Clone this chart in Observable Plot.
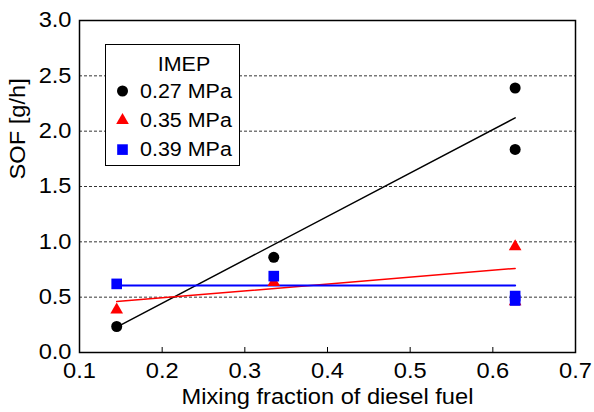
<!DOCTYPE html>
<html><head><meta charset="utf-8">
<script src="https://cdn.jsdelivr.net/npm/d3@7"></script>
<script src="https://cdn.jsdelivr.net/npm/@observablehq/plot@0.6"></script>
<style>
body{margin:0;background:#fff;}
#chart{position:relative;width:594px;height:412px;font-family:"Liberation Sans",Arial,sans-serif;}
#legend{position:absolute;left:105px;top:44px;width:135px;height:122px;border:1.5px solid #000;background:#fff;box-sizing:border-box;}
</style></head><body><div id="chart"></div>
<script>
// Data
const mixFraction = [0.145, 0.335, 0.627, 0.627];
const sof027 = [0.235, 0.86, 2.39, 1.835];
const sof035 = [0.385, 0.635, 0.957, 0.46];
const sof039 = [0.62, 0.69, 0.51, 0.47];
// fitted trend line end points
const fitX = [0.145, 0.627];
const fit027 = [0.23, 2.12];
const fit035 = [0.46, 0.76];
const fit039 = [0.605, 0.605];
const seriesNames = ["0.27 MPa", "0.35 MPa", "0.39 MPa"];
const legendTitle = "IMEP";
const xTicks = [0.1, 0.2, 0.3, 0.4, 0.5, 0.6, 0.7];
const yTicks = [0, 0.5, 1.0, 1.5, 2.0, 2.5, 3.0];
const gridY = [0.5, 1.0, 1.5, 2.0, 2.5];
const xLabel = "Mixing fraction of diesel fuel";
const yLabel = "SOF [g/h]";

const pts = ys => mixFraction.map((x, i) => ({x, y: ys[i]}));
const fit = ys => fitX.map((x, i) => ({x, y: ys[i]}));
const font = '"Liberation Sans", Arial, sans-serif';
const widen = 1.1;

const plot = Plot.plot({
  width: 594, height: 412,
  marginLeft: 79, marginRight: 19, marginTop: 20, marginBottom: 60,
  style: {fontFamily: font, fontSize: "21.5px", color: "#000", background: "#fff"},
  x: {domain: [0.1, 0.7]},
  y: {domain: [0, 3]},
  marks: [
    Plot.ruleY(gridY, {stroke: "#000", strokeWidth: 0.8, strokeDasharray: "3,2"}),
    Plot.ruleX(xTicks.slice(1, -1), {insetTop: 327, stroke: "#000", strokeWidth: 1}),
    Plot.axisX({ticks: xTicks, tickSize: 0, tickPadding: 10, tickFormat: d3.format(".1f"), label: null, fontSize: 21.5}),
    Plot.axisY({ticks: yTicks, tickSize: 0, tickPadding: 8, tickFormat: d3.format(".1f"), label: null, fontSize: 21.5}),
    Plot.text([xLabel], {frameAnchor: "bottom", dy: 51, fontSize: 21.5}),
    Plot.text([yLabel], {frameAnchor: "left", dx: -61, dy: -7, rotate: -90, fontSize: 21.5}),
    Plot.frame({stroke: "#000", strokeWidth: 1.5}),
    Plot.line(fit(fit027), {x: "x", y: "y", stroke: "#000", strokeWidth: 1.5}),
    Plot.line(fit(fit035), {x: "x", y: "y", stroke: "#ff0000", strokeWidth: 1.5}),
    Plot.line(fit(fit039), {x: "x", y: "y", stroke: "#0000ff", strokeWidth: 2}),
    Plot.dot(pts(sof027), {x: "x", y: "y", symbol: "circle", r: 5.5, fill: "#000"}),
    Plot.dot(pts(sof035), {x: "x", y: "y", symbol: "triangle", r: 4.7, fill: "#ff0000"}),
    Plot.dot(pts(sof039), {x: "x", y: "y", symbol: "square", r: 6, fill: "#0000ff"})
  ]
});
const chart = document.getElementById("chart");
chart.appendChild(plot);

// Legend
const legend = document.createElement("div");
legend.id = "legend";
chart.appendChild(legend);
const lsvg = d3.select(legend).append("svg").attr("width", 133).attr("height", 120)
  .style("position", "absolute").style("left", "0px").style("top", "0px")
  .style("font-family", font);
lsvg.append("text").attr("x", 78).attr("y", 19).attr("dy", "0.35em").attr("text-anchor", "middle")
  .attr("font-size", 19.5).text(legendTitle);
const syms = [[d3.symbolCircle, "#000", 5.5], [d3.symbolTriangle, "#ff0000", 4.7], [d3.symbolSquare, "#0000ff", 6]];
seriesNames.forEach((name, i) => {
  const cy = 46 + i * 29.3;
  lsvg.append("path").attr("transform", `translate(16.5,${cy})`)
    .attr("d", d3.symbol(syms[i][0], syms[i][2] * syms[i][2] * Math.PI)()).attr("fill", syms[i][1]);
  lsvg.append("text").attr("x", 34).attr("y", cy).attr("dy", "0.35em")
    .attr("font-size", 19.5).text(name);
});

// widen glyphs slightly to match the reference typeface proportions
chart.querySelectorAll("text").forEach(t => {
  const targets = t.querySelectorAll("tspan").length ? t.querySelectorAll("tspan") : [t];
  targets.forEach(el => {
    const len = el.getComputedTextLength();
    if (len > 0) {
      el.setAttribute("textLength", (len * widen).toFixed(2));
      el.setAttribute("lengthAdjust", "spacingAndGlyphs");
    }
  });
});
</script></body></html>
